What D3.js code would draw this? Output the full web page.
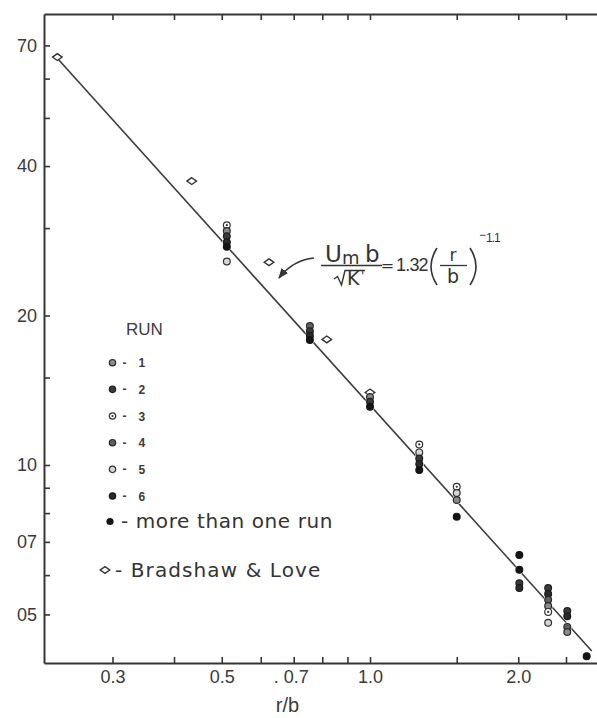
<!DOCTYPE html>
<html>
<head>
<meta charset="utf-8">
<script src="https://cdn.jsdelivr.net/npm/d3@7"></script>
<style>
  html, body { margin: 0; padding: 0; background: #fff; }
  svg { display: block; }
</style>
</head>
<body>
<svg id="chart" width="597" height="718"></svg>
<script>
// Measured points: r/b, axis value (10 x Um b / sqrt K'), run id (0 = more than one run)
const runRb = [
  0.512, 0.512, 0.512, 0.512, 0.512, 0.512,
  0.755, 0.755, 0.755, 0.755,
  1.0, 1.0, 1.0,
  1.259, 1.259, 1.259, 1.259, 1.259,
  1.5, 1.5, 1.5, 1.5,
  2.01, 2.01, 2.01, 2.01,
  2.30, 2.30, 2.30, 2.30, 2.30, 2.30,
  2.515, 2.515, 2.515, 2.515,
  2.754
];
const runU = [
  30.4, 29.6, 28.9, 28.1, 27.5, 25.7,
  19.05, 18.6, 18.2, 17.85,
  13.7, 13.4, 13.1,
  11.0, 10.6, 10.3, 10.05, 9.77,
  9.04, 8.78, 8.5, 7.87,
  6.59, 6.15, 5.78, 5.65,
  5.65, 5.5, 5.35, 5.2, 5.06, 4.81,
  5.08, 4.96, 4.72, 4.61,
  4.12
];
const runId = [
  3, 1, 2, 6, 0, 5,
  4, 2, 6, 0,
  1, 2, 0,
  3, 5, 2, 6, 0,
  3, 5, 1, 0,
  0, 0, 2, 6,
  2, 6, 4, 1, 3, 5,
  2, 6, 4, 1,
  0
];

// Bradshaw & Love data
const blRb = [0.2318, 0.4345, 0.6236, 0.817, 1.0];
const blU = [66.3, 37.3, 25.6, 17.9, 14.0];

// Fitted power law: Um b / sqrt K' = 1.32 (r/b)^-1.1 ; the axis carries 10x that quantity
const fitCoef = 1.32;
const fitExp = -1.1;
const axisFactor = 10;
const fitRbRange = [0.232, 2.82];

// Axis ticks and their printed labels
const xTicks = [0.3, 0.4, 0.5, 0.6, 0.7, 0.8, 0.9, 1.0, 1.5, 2.0, 2.5];
const xTickLabels = { 0.3: "0.3", 0.5: "0.5", 0.7: ". 0.7", 1: "1.0", 2: "2.0" };
const yTicks = [5, 6, 7, 8, 9, 10, 15, 20, 30, 40, 50, 60, 70];
const yTickLabels = { 5: "05", 7: "07", 10: "10", 20: "20", 40: "40", 70: "70" };

// Legend entries
const legendRuns = [1, 2, 3, 4, 5, 6];

const ink = "#363636";
const runStyle = {
  0: { fill: "#151515", stroke: "#151515", dot: false },
  1: { fill: "#8a8a8a", stroke: "#2a2a2a", dot: false },
  2: { fill: "#3a3a3a", stroke: "#202020", dot: false },
  3: { fill: "#ffffff", stroke: "#333333", dot: true },
  4: { fill: "#606060", stroke: "#2a2a2a", dot: false },
  5: { fill: "#d6d6d6", stroke: "#333333", dot: false },
  6: { fill: "#2a2a2a", stroke: "#1a1a1a", dot: false }
};

const svg = d3.select("#chart");
svg.append("rect").attr("width", 597).attr("height", 718).attr("fill", "#fff");

// Frame: left 44, top 14, bottom 663; the right side runs past the page edge
const x = d3.scaleLog().domain([0.2178, 2.931]).range([44, 600]);
const y = d3.scaleLog().domain([3.992, 80.96]).range([663, 14]);

const axisFont = "'Liberation Sans', Arial, sans-serif";

function styleAxis(g) {
  g.select(".domain").attr("stroke", ink).attr("stroke-width", 2);
  g.selectAll(".tick line").attr("stroke", ink).attr("stroke-width", 1.6);
  g.selectAll(".tick text")
    .attr("fill", "#3a3a3a")
    .attr("font-family", axisFont)
    .attr("font-size", 18);
}

// Left axis
svg.append("g")
  .attr("transform", "translate(44,0)")
  .call(d3.axisLeft(y).tickValues(yTicks).tickSize(-6).tickSizeOuter(0).tickPadding(7)
    .tickFormat(d => yTickLabels[d] || ""))
  .call(styleAxis);

// Bottom axis
svg.append("g")
  .attr("transform", "translate(0,663)")
  .call(d3.axisBottom(x).tickValues(xTicks).tickSize(-6).tickSizeOuter(0).tickPadding(7)
    .tickFormat(d => xTickLabels[d] || ""))
  .call(styleAxis)
  .call(g => g.selectAll(".tick text").filter(d => d === 0.7).attr("dx", -3));

// Top axis (ticks only)
svg.append("g")
  .attr("transform", "translate(0,14)")
  .call(d3.axisTop(x).tickValues(xTicks).tickSize(-6).tickSizeOuter(0).tickFormat(() => ""))
  .call(styleAxis);

// Axis title
svg.append("text")
  .attr("x", x(0.68)).attr("y", 712)
  .attr("text-anchor", "middle")
  .attr("font-family", axisFont)
  .attr("font-size", 20)
  .attr("fill", "#3a3a3a")
  .text("r/b");

// Fitted line (straight on log-log axes)
const fitLine = d3.line()
  .x(d => x(d))
  .y(d => y(axisFactor * fitCoef * Math.pow(d, fitExp)));
svg.append("path")
  .datum(fitRbRange)
  .attr("d", fitLine)
  .attr("fill", "none")
  .attr("stroke", "#3c3c3c")
  .attr("stroke-width", 1.6);

// Diamond marker
function diamondPath(w, h) {
  return `M0,${-h} L${w},0 L0,${h} L${-w},0 Z`;
}

// Bradshaw & Love points
const bl = svg.append("g");
bl.selectAll("path")
  .data(blRb.map((r, i) => ({ r, u: blU[i] })))
  .join("path")
  .attr("transform", d => `translate(${x(d.r)},${y(d.u)})`)
  .attr("d", diamondPath(4.8, 3.4))
  .attr("fill", "#fff")
  .attr("stroke", "#333")
  .attr("stroke-width", 1.4);

// Run points with a white halo that breaks the line behind them
const pts = runRb.map((r, i) => ({ r, u: runU[i], id: runId[i] }));
const pg = svg.append("g");
pg.selectAll("circle.halo")
  .data(pts)
  .join("circle")
  .attr("class", "halo")
  .attr("cx", d => x(d.r)).attr("cy", d => y(d.u))
  .attr("r", 4.6)
  .attr("fill", "#fff");
function drawRunMarker(sel, r) {
  sel.append("circle")
    .attr("r", r)
    .attr("fill", d => runStyle[d.id].fill)
    .attr("stroke", d => runStyle[d.id].stroke)
    .attr("stroke-width", 1.2);
  sel.filter(d => runStyle[d.id].dot)
    .append("circle")
    .attr("r", 1.1)
    .attr("fill", "#333");
}
const marks = pg.selectAll("g.pt")
  .data(pts)
  .join("g")
  .attr("class", "pt")
  .attr("transform", d => `translate(${x(d.r)},${y(d.u)})`);
drawRunMarker(marks, 3.4);

// Legend
const legendFont = "'DejaVu Sans', Verdana, sans-serif";
const lg = svg.append("g");
lg.append("text")
  .attr("x", 126).attr("y", 335)
  .attr("font-family", axisFont).attr("font-size", 17)
  .attr("fill", "#3a3a3a")
  .text("RUN");

const rowY = d3.scaleLinear().domain([1, 6]).range([362.7, 496]);
const runRows = lg.selectAll("g.run")
  .data(legendRuns.map(id => ({ id })))
  .join("g")
  .attr("class", "run")
  .attr("transform", d => `translate(112.5,${rowY(d.id)})`);
drawRunMarker(runRows, 3.2);
runRows.append("text")
  .attr("x", 10).attr("y", 4)
  .attr("font-family", axisFont).attr("font-size", 12).attr("font-weight", "bold")
  .attr("fill", "#3a3a3a")
  .text("-");
runRows.append("text")
  .attr("x", 26).attr("y", 4.5)
  .attr("font-family", axisFont).attr("font-size", 12).attr("font-weight", "bold")
  .attr("fill", "#3a3a3a")
  .text(d => d.id);

const multiRow = lg.append("g").attr("transform", "translate(110,521.5)");
multiRow.append("circle").attr("r", 3.6).attr("fill", "#151515");
multiRow.append("text")
  .attr("x", 11).attr("y", 6.5)
  .attr("font-family", legendFont).attr("font-size", 20)
  .attr("letter-spacing", 0.6)
  .attr("fill", "#333")
  .text("- more than one run");

const blRow = lg.append("g").attr("transform", "translate(105,570)");
blRow.append("path").attr("d", diamondPath(4.8, 3.4))
  .attr("fill", "#fff").attr("stroke", "#333").attr("stroke-width", 1.4);
blRow.append("text")
  .attr("x", 10).attr("y", 7)
  .attr("font-family", legendFont).attr("font-size", 20)
  .attr("letter-spacing", 1.1)
  .attr("fill", "#333")
  .text("- Bradshaw & Love");

// Equation of the fitted line
const eq = svg.append("g")
  .attr("font-family", legendFont)
  .attr("fill", "#333");
eq.append("text").attr("x", 325).attr("y", 262).attr("font-size", 23).text("U");
eq.append("text").attr("x", 342).attr("y", 264).attr("font-size", 18).text("m");
eq.append("text").attr("x", 365).attr("y", 262).attr("font-size", 23).text("b");
eq.append("line").attr("x1", 321).attr("x2", 382).attr("y1", 265.5).attr("y2", 265.5)
  .attr("stroke", "#333").attr("stroke-width", 1.6);
eq.append("path").attr("d", "M334,279 L337.5,276.5 L341.5,285 L345,270.5 L365,270.5")
  .attr("fill", "none").attr("stroke", "#333").attr("stroke-width", 1.4);
eq.append("text").attr("x", 347).attr("y", 284.5).attr("font-size", 19).text("K");
eq.append("text").attr("x", 361).attr("y", 280).attr("font-size", 12).text("'");
eq.append("text").attr("x", 387.5).attr("y", 271).attr("font-size", 16)
  .attr("text-anchor", "middle").text("=");
eq.append("text").attr("x", 396).attr("y", 271)
  .attr("font-family", axisFont).attr("font-size", 18).attr("letter-spacing", -0.8)
  .text("1.32");
// Thin parentheses around r/b
eq.append("path").attr("d", "M437,248 Q425,266.5 437,285")
  .attr("fill", "none").attr("stroke", "#333").attr("stroke-width", 1.6);
eq.append("path").attr("d", "M470,248 Q482,266.5 470,285")
  .attr("fill", "none").attr("stroke", "#333").attr("stroke-width", 1.6);
eq.append("text").attr("x", 453).attr("y", 261).attr("font-size", 17)
  .attr("text-anchor", "middle").text("r");
eq.append("line").attr("x1", 440).attr("x2", 467).attr("y1", 265.5).attr("y2", 265.5)
  .attr("stroke", "#333").attr("stroke-width", 1.3);
eq.append("text").attr("x", 453).attr("y", 283).attr("font-size", 19)
  .attr("text-anchor", "middle").text("b");
eq.append("text").attr("x", 479).attr("y", 239)
  .attr("font-family", axisFont).attr("font-size", 12).text("\u2212");
eq.append("text").attr("x", 486).attr("y", 242)
  .attr("font-family", axisFont).attr("font-size", 12).attr("letter-spacing", -1)
  .text("1.1");

// Pointer from the equation to the line
svg.append("defs").append("marker")
  .attr("id", "arrowhead")
  .attr("viewBox", "0 0 10 10")
  .attr("refX", 9).attr("refY", 5)
  .attr("markerWidth", 7).attr("markerHeight", 7)
  .attr("orient", "auto")
  .append("path")
  .attr("d", "M0,1 L10,5 L0,9 Z")
  .attr("fill", "#333");
svg.append("path")
  .attr("d", "M314,258 Q293,260 279,278")
  .attr("fill", "none")
  .attr("stroke", "#333")
  .attr("stroke-width", 1.5)
  .attr("marker-end", "url(#arrowhead)");
</script>
</body>
</html>
